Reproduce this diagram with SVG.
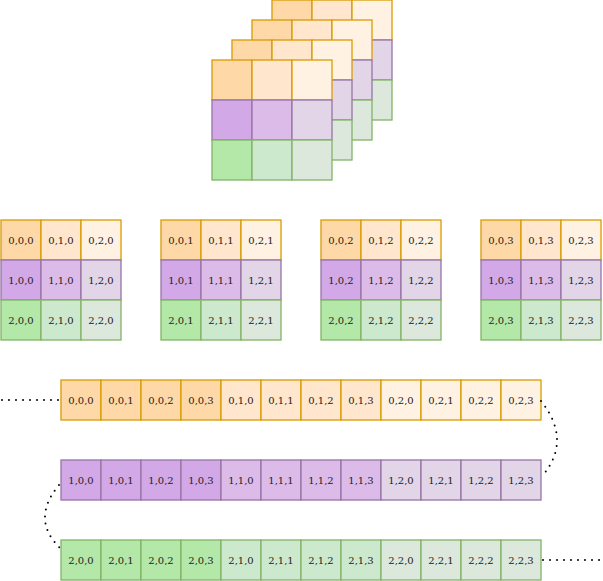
<svg xmlns="http://www.w3.org/2000/svg" width="603" height="581" viewBox="0 0 603 581">
<style>
.o0{fill:#ffd8a8}.o1{fill:#ffe6cc}.o2{fill:#fff2e2}
.p0{fill:#d2a8e6}.p1{fill:#dcbbe9}.p2{fill:#e1d5e7}
.g0{fill:#b3e8a8}.g1{fill:#cde9cd}.g2{fill:#dce8dc}
.o{stroke:#d79b00}.p{stroke:#9673a6}.g{stroke:#82b366}
rect{stroke-width:1.3}
text{font-family:"DejaVu Serif","Liberation Serif",serif;font-size:10px;fill:#222;text-anchor:middle;dominant-baseline:central}
.dot{fill:none;stroke:#000;stroke-width:2;stroke-dasharray:0 7;stroke-linecap:round}
</style>
<defs>
<g id="cube">
<rect class="o0 o" x="0" y="0" width="40" height="40"/><rect class="o1 o" x="40" y="0" width="40" height="40"/><rect class="o2 o" x="80" y="0" width="40" height="40"/>
<rect class="p0 p" x="0" y="40" width="40" height="40"/><rect class="p1 p" x="40" y="40" width="40" height="40"/><rect class="p2 p" x="80" y="40" width="40" height="40"/>
<rect class="g0 g" x="0" y="80" width="40" height="40"/><rect class="g1 g" x="40" y="80" width="40" height="40"/><rect class="g2 g" x="80" y="80" width="40" height="40"/>
</g>
</defs>
<g id="stack">
<use href="#cube" x="272" y="0"/><use href="#cube" x="252" y="20"/><use href="#cube" x="232" y="40"/><use href="#cube" x="212" y="60"/>
</g>
<g id="m0" transform="translate(1,220)"><use href="#cube"/>
<text x="20" y="20">0,0,0</text><text x="60" y="20">0,1,0</text><text x="100" y="20">0,2,0</text>
<text x="20" y="60">1,0,0</text><text x="60" y="60">1,1,0</text><text x="100" y="60">1,2,0</text>
<text x="20" y="100">2,0,0</text><text x="60" y="100">2,1,0</text><text x="100" y="100">2,2,0</text></g>
<g id="m1" transform="translate(161,220)"><use href="#cube"/>
<text x="20" y="20">0,0,1</text><text x="60" y="20">0,1,1</text><text x="100" y="20">0,2,1</text>
<text x="20" y="60">1,0,1</text><text x="60" y="60">1,1,1</text><text x="100" y="60">1,2,1</text>
<text x="20" y="100">2,0,1</text><text x="60" y="100">2,1,1</text><text x="100" y="100">2,2,1</text></g>
<g id="m2" transform="translate(321,220)"><use href="#cube"/>
<text x="20" y="20">0,0,2</text><text x="60" y="20">0,1,2</text><text x="100" y="20">0,2,2</text>
<text x="20" y="60">1,0,2</text><text x="60" y="60">1,1,2</text><text x="100" y="60">1,2,2</text>
<text x="20" y="100">2,0,2</text><text x="60" y="100">2,1,2</text><text x="100" y="100">2,2,2</text></g>
<g id="m3" transform="translate(481,220)"><use href="#cube"/>
<text x="20" y="20">0,0,3</text><text x="60" y="20">0,1,3</text><text x="100" y="20">0,2,3</text>
<text x="20" y="60">1,0,3</text><text x="60" y="60">1,1,3</text><text x="100" y="60">1,2,3</text>
<text x="20" y="100">2,0,3</text><text x="60" y="100">2,1,3</text><text x="100" y="100">2,2,3</text></g>
<g id="row0" transform="translate(61,380)">
<rect class="o0 o" x="0" width="40" height="40"/><rect class="o0 o" x="40" width="40" height="40"/><rect class="o0 o" x="80" width="40" height="40"/><rect class="o0 o" x="120" width="40" height="40"/>
<rect class="o1 o" x="160" width="40" height="40"/><rect class="o1 o" x="200" width="40" height="40"/><rect class="o1 o" x="240" width="40" height="40"/><rect class="o1 o" x="280" width="40" height="40"/>
<rect class="o2 o" x="320" width="40" height="40"/><rect class="o2 o" x="360" width="40" height="40"/><rect class="o2 o" x="400" width="40" height="40"/><rect class="o2 o" x="440" width="40" height="40"/>
<text x="20" y="20">0,0,0</text><text x="60" y="20">0,0,1</text><text x="100" y="20">0,0,2</text><text x="140" y="20">0,0,3</text>
<text x="180" y="20">0,1,0</text><text x="220" y="20">0,1,1</text><text x="260" y="20">0,1,2</text><text x="300" y="20">0,1,3</text>
<text x="340" y="20">0,2,0</text><text x="380" y="20">0,2,1</text><text x="420" y="20">0,2,2</text><text x="460" y="20">0,2,3</text></g>
<g id="row1" transform="translate(61,460)">
<rect class="p0 p" x="0" width="40" height="40"/><rect class="p0 p" x="40" width="40" height="40"/><rect class="p0 p" x="80" width="40" height="40"/><rect class="p0 p" x="120" width="40" height="40"/>
<rect class="p1 p" x="160" width="40" height="40"/><rect class="p1 p" x="200" width="40" height="40"/><rect class="p1 p" x="240" width="40" height="40"/><rect class="p1 p" x="280" width="40" height="40"/>
<rect class="p2 p" x="320" width="40" height="40"/><rect class="p2 p" x="360" width="40" height="40"/><rect class="p2 p" x="400" width="40" height="40"/><rect class="p2 p" x="440" width="40" height="40"/>
<text x="20" y="20">1,0,0</text><text x="60" y="20">1,0,1</text><text x="100" y="20">1,0,2</text><text x="140" y="20">1,0,3</text>
<text x="180" y="20">1,1,0</text><text x="220" y="20">1,1,1</text><text x="260" y="20">1,1,2</text><text x="300" y="20">1,1,3</text>
<text x="340" y="20">1,2,0</text><text x="380" y="20">1,2,1</text><text x="420" y="20">1,2,2</text><text x="460" y="20">1,2,3</text></g>
<g id="row2" transform="translate(61,540)">
<rect class="g0 g" x="0" width="40" height="40"/><rect class="g0 g" x="40" width="40" height="40"/><rect class="g0 g" x="80" width="40" height="40"/><rect class="g0 g" x="120" width="40" height="40"/>
<rect class="g1 g" x="160" width="40" height="40"/><rect class="g1 g" x="200" width="40" height="40"/><rect class="g1 g" x="240" width="40" height="40"/><rect class="g1 g" x="280" width="40" height="40"/>
<rect class="g2 g" x="320" width="40" height="40"/><rect class="g2 g" x="360" width="40" height="40"/><rect class="g2 g" x="400" width="40" height="40"/><rect class="g2 g" x="440" width="40" height="40"/>
<text x="20" y="20">2,0,0</text><text x="60" y="20">2,0,1</text><text x="100" y="20">2,0,2</text><text x="140" y="20">2,0,3</text>
<text x="180" y="20">2,1,0</text><text x="220" y="20">2,1,1</text><text x="260" y="20">2,1,2</text><text x="300" y="20">2,1,3</text>
<text x="340" y="20">2,2,0</text><text x="380" y="20">2,2,1</text><text x="420" y="20">2,2,2</text><text x="460" y="20">2,2,3</text></g>
<g id="connectors">
<path class="dot" d="M2,400 H60"/>
<path class="dot" d="M541,401 Q572,440 543,475"/>
<path class="dot" d="M59,485 Q30,520 61,549"/>
<path class="dot" d="M543,560 H602"/>
</g>
</svg>
